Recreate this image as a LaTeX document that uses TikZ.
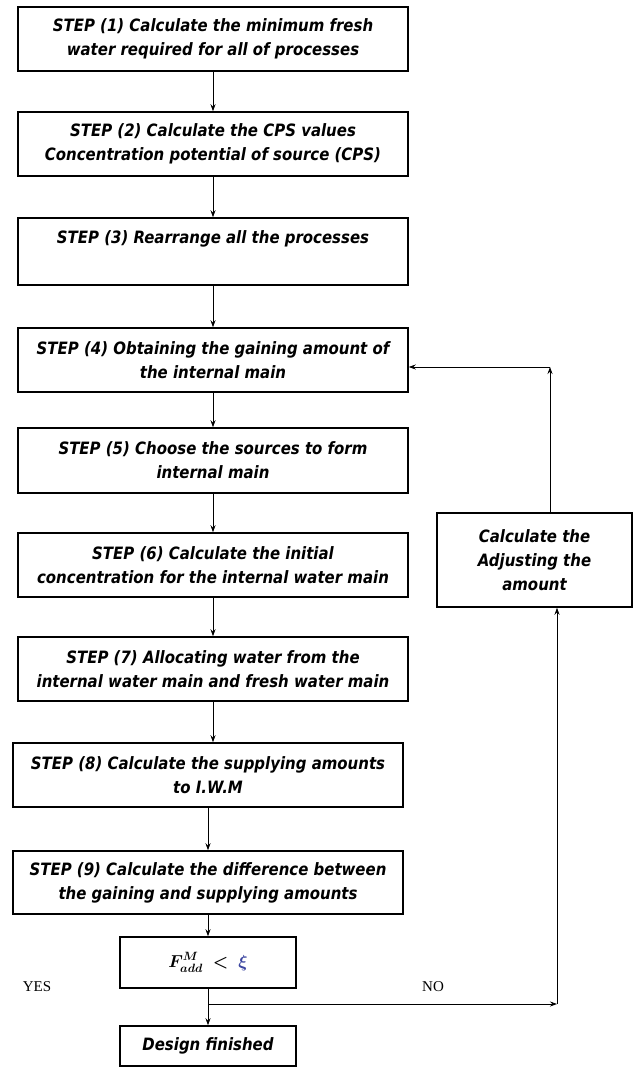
\documentclass[tikz,border=0pt]{standalone}
\usepackage{amsmath}
\usepackage{fontspec}
\newfontfamily\stepfont[FakeStretch=0.88]{DejaVu Sans}
\newfontfamily\answerfont{Liberation Serif}
\usetikzlibrary{arrows.meta,positioning}
\definecolor{xiblue}{RGB}{60,70,160}

\begin{document}
\begin{tikzpicture}[x=1pt,y=-1pt]
	\tikzstyle{every node}=[font=\stepfont\fontsize{17}{24}\selectfont\bfseries\itshape]
	\tikzstyle{stepbox}=[draw, line width=1.5pt, minimum width=390pt, minimum height=64pt, align=center, inner sep=0pt]
	\tikzstyle{link}=[line width=0.8pt, -{Stealth[length=7pt,width=5pt]}]
	\tikzstyle{answer}=[font=\answerfont\fontsize{15}{17}\selectfont]
	\useasboundingbox (0,0) rectangle (633,1068);
	\node [stepbox] (s1) at (213,39) {STEP (1) Calculate the minimum fresh\\water required for all of processes};
	\node [stepbox] (s2) at (213,144) {STEP (2) Calculate the CPS values\\Concentration potential of source (CPS)};
	\node [stepbox, minimum height=67pt] (s3) at (213,251.5) {STEP (3) Rearrange all the processes\\[4pt]~};
	\node [stepbox] (s4) at (213,360) {STEP (4) Obtaining the gaining amount of\\the internal main};
	\node [stepbox, minimum height=65pt] (s5) at (213,460.5) {STEP (5) Choose the sources to form\\internal main};
	\node [stepbox] (s6) at (213,565) {STEP (6) Calculate the initial\\concentration for the internal water main};
	\node [stepbox] (s7) at (213,669) {STEP (7) Allocating water from the\\internal water main and fresh water main};
	\node [stepbox] (s8) at (208,775) {STEP (8) Calculate the supplying amounts\\to I.W.M};
	\node [stepbox, minimum height=63pt] (s9) at (208,882.5) {STEP (9) Calculate the difference between\\the gaining and supplying amounts};
	\node [stepbox, minimum width=176pt, minimum height=51pt] (test) at (208,962.5) {$\boldsymbol{F^{M}_{add}}\ \boldsymbol{<}\ {\color{xiblue}\boldsymbol{\xi}}$};
	\node [stepbox, minimum width=176pt, minimum height=40pt] (done) at (208,1046) {Design finished};
	\node [stepbox, minimum width=195pt, minimum height=94pt] (adjust) at (534.5,560) {Calculate the\\Adjusting the\\amount};
	\node [answer] (yes) at (37,987) {YES};
	\node [answer] (no) at (433,987) {NO};
	\coordinate (split) at (208,1004);
	\coordinate (turn) at (557,1004);
	\coordinate (back) at (550,367);
	\draw [link] (s1.south) -- (s1.south |- s2.north);
	\draw [link] (s2.south) -- (s2.south |- s3.north);
	\draw [link] (s3.south) -- (s3.south |- s4.north);
	\draw [link] (s4.south) -- (s4.south |- s5.north);
	\draw [link] (s5.south) -- (s5.south |- s6.north);
	\draw [link] (s6.south) -- (s6.south |- s7.north);
	\draw [link] (s7.south) -- (s7.south |- s8.north);
	\draw [link] (s8.south) -- (s8.south |- s9.north);
	\draw [link] (s9.south) -- (s9.south |- test.north);
	\draw [line width=0.8pt] (test.south) -- (split);
	\draw [link] (split) -- (done.north);
	\draw [link] (split) -- (turn);
	\draw [link] (turn) -- (turn |- adjust.south);
	\draw [link] (adjust.north -| back) -- (back);
	\draw [link] (back) -- (s4.east |- back);
\end{tikzpicture}
\end{document}
